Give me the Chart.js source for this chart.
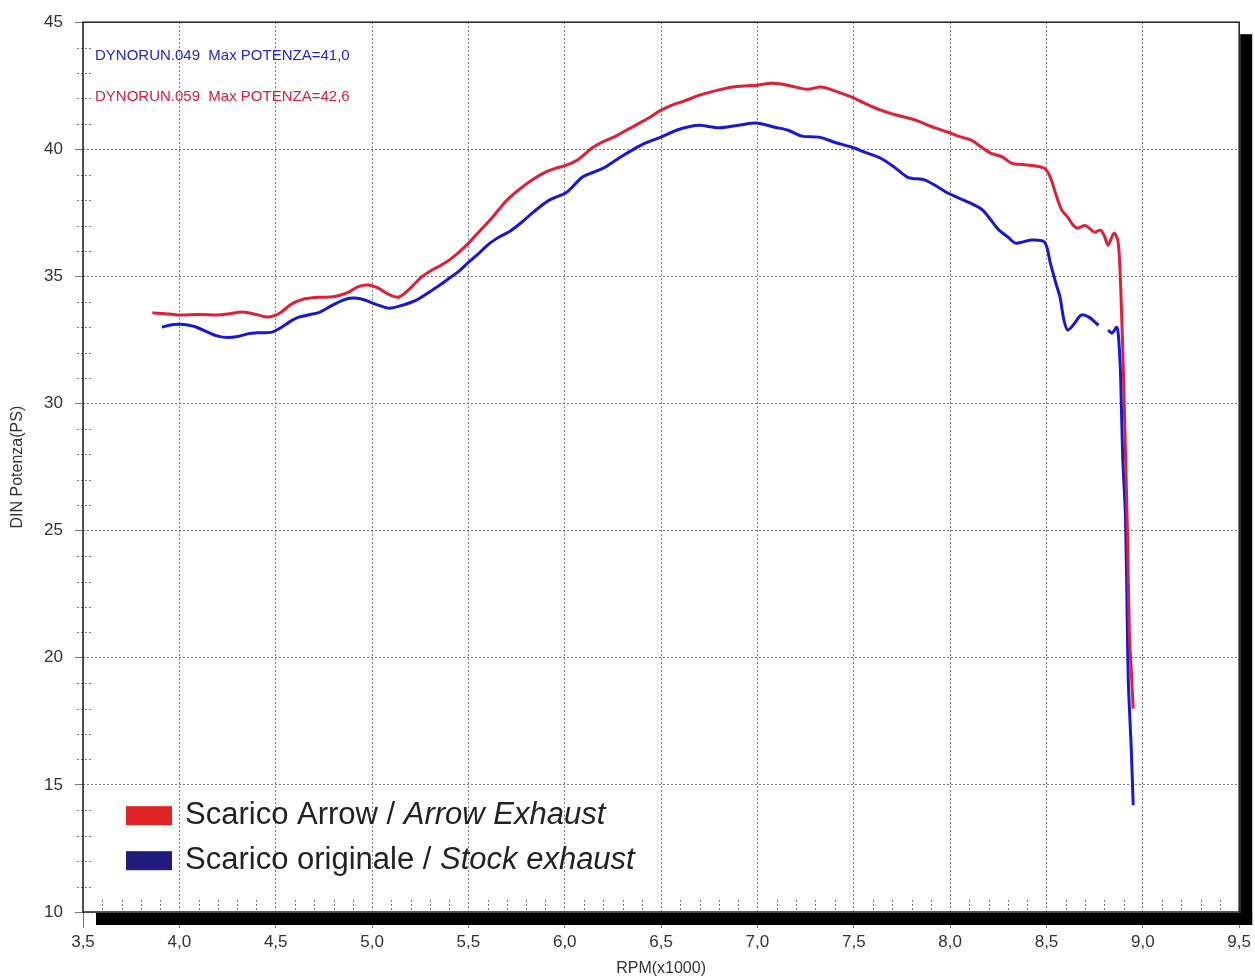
<!DOCTYPE html>
<html>
<head>
<meta charset="utf-8">
<title>DIN Potenza - Arrow vs Stock</title>
<script src="https://cdn.jsdelivr.net/npm/chart.js@4.4.1/dist/chart.umd.min.js"></script>
<style>
  html, body { margin: 0; padding: 0; background: #fff; }
  #wrap { width: 1255px; height: 978px; position: relative; }
</style>
</head>
<body>
<div id="wrap"><canvas id="dyno"></canvas></div>
<script>
// Dyno runs: Arrow exhaust vs stock exhaust, DIN power (PS) against RPM x1000

const arrowRpm = [3.86, 3.95, 4.00, 4.10, 4.20, 4.25, 4.33, 4.40, 4.46, 4.52, 4.58, 4.65, 4.72, 4.80, 4.87, 4.93, 4.98,
  5.03, 5.09, 5.14, 5.20, 5.26, 5.31, 5.36, 5.40, 5.45, 5.50, 5.56, 5.61, 5.66, 5.70, 5.76, 5.83, 5.90, 5.95,
  6.01, 6.07, 6.14, 6.20, 6.26, 6.32, 6.38, 6.44, 6.50, 6.56, 6.62, 6.70, 6.78, 6.87, 6.95, 7.00, 7.07, 7.13,
  7.18, 7.26, 7.33, 7.40, 7.49, 7.56, 7.64, 7.72, 7.82, 7.90, 7.99, 8.05, 8.11, 8.16, 8.21, 8.27, 8.32, 8.38,
  8.44, 8.49, 8.52, 8.55, 8.58, 8.61, 8.64, 8.66, 8.70, 8.73, 8.75, 8.78, 8.80, 8.82, 8.85, 8.87, 8.88, 8.89,
  8.90, 8.91, 8.92, 8.93, 8.94, 8.95];
const arrowPs = [33.57, 33.52, 33.48, 33.50, 33.48, 33.52, 33.60, 33.50, 33.40, 33.55, 33.90, 34.12, 34.18, 34.20, 34.35, 34.60, 34.66,
  34.55, 34.28, 34.19, 34.55, 35.00, 35.25, 35.45, 35.64, 35.95, 36.30, 36.80, 37.20, 37.65, 38.00, 38.40, 38.79, 39.10, 39.25,
  39.38, 39.60, 40.04, 40.30, 40.50, 40.75, 41.00, 41.25, 41.54, 41.75, 41.90, 42.13, 42.30, 42.45, 42.50, 42.52, 42.60, 42.56,
  42.48, 42.36, 42.45, 42.30, 42.05, 41.80, 41.54, 41.35, 41.15, 40.90, 40.67, 40.50, 40.36, 40.10, 39.85, 39.70, 39.45, 39.40,
  39.35, 39.25, 38.90, 38.20, 37.60, 37.33, 37.00, 36.90, 37.00, 36.85, 36.74, 36.82, 36.60, 36.23, 36.70, 36.43, 35.50, 33.50,
  31.00, 28.00, 25.00, 21.00, 19.50, 18.00];

const stockRpm = [3.91, 3.96, 4.00, 4.05, 4.09, 4.15, 4.20, 4.25, 4.31, 4.36, 4.40, 4.48, 4.53, 4.58, 4.62, 4.68, 4.73,
  4.79, 4.85, 4.90, 4.95, 4.99, 5.04, 5.09, 5.15, 5.23, 5.30, 5.36, 5.40, 5.45, 5.50, 5.56, 5.61, 5.66, 5.72,
  5.78, 5.84, 5.92, 6.01, 6.09, 6.15, 6.21, 6.28, 6.35, 6.42, 6.50, 6.58, 6.65, 6.70, 6.80, 6.90, 7.00, 7.09,
  7.16, 7.23, 7.32, 7.40, 7.49, 7.56, 7.64, 7.71, 7.78, 7.87, 7.94, 7.99, 8.04, 8.10, 8.17, 8.25, 8.30, 8.34,
  8.42, 8.49, 8.52, 8.55, 8.57, 8.59, 8.61, 8.64, 8.68, 8.72, 8.77, 8.795, 8.82, 8.84, 8.865, 8.875, 8.885, 8.895,
  8.91, 8.92, 8.925, 8.94, 8.95];
const stockPs = [33.00, 33.10, 33.12, 33.08, 33.00, 32.80, 32.65, 32.60, 32.65, 32.75, 32.78, 32.81, 33.00, 33.25, 33.40, 33.50, 33.60,
  33.85, 34.07, 34.15, 34.10, 33.99, 33.85, 33.75, 33.85, 34.07, 34.40, 34.70, 34.93, 35.20, 35.55, 35.95, 36.30, 36.55, 36.80,
  37.15, 37.55, 38.00, 38.31, 38.90, 39.10, 39.30, 39.65, 39.97, 40.25, 40.48, 40.75, 40.90, 40.95, 40.85, 40.95, 41.03, 40.87,
  40.75, 40.52, 40.48, 40.28, 40.08, 39.88, 39.65, 39.30, 38.90, 38.79, 38.50, 38.27, 38.10, 37.90, 37.60, 36.85, 36.55, 36.31,
  36.43, 36.35, 35.52, 34.70, 34.19, 33.30, 32.89, 33.10, 33.48, 33.40, 33.08, null, 32.89, 32.77, 33.00, 32.50, 31.00, 28.00,
  25.50, 21.00, 19.00, 16.40, 14.20];

const xMin = 3.5, xMax = 9.5, xStep = 0.5, xMinorStep = 0.1;
const yMin = 10, yMax = 45, yStep = 5, yMinorStep = 1;

const runLabels = ["DYNORUN.049  Max POTENZA=41,0", "DYNORUN.059  Max POTENZA=42,6"];
const runColors = ["#2626cc", "#d81e3c"];
const legendText = [["Scarico Arrow / ", "Arrow Exhaust"], ["Scarico originale / ", "Stock exhaust"]];
const legendColors = ["#e02424", "#221c7c"];

const FONT = "'Liberation Sans', Arial, sans-serif";

function toPoints(xs, ys) {
  return xs.map((x, i) => ({ x: x, y: ys[i] }));
}

// frame, drop shadow, minor ticks, run labels and legend
const dynoDecor = {
  id: "dynoDecor",
  beforeDatasetsDraw(chart) {
    const { ctx, chartArea: a, scales } = chart;
    ctx.save();
    ctx.fillStyle = "#000";
    ctx.fillRect(a.right + 1, a.top + 12, 12, a.bottom - a.top + 1);
    ctx.fillRect(a.left + 13, a.bottom + 1, a.right - a.left, 12);

    ctx.strokeStyle = "#777";
    ctx.lineWidth = 1;
    ctx.setLineDash([2, 2]);
    ctx.beginPath();
    for (let v = xMin + xMinorStep; v < xMax - 1e-6; v += xMinorStep) {
      const r = Math.round(v * 10) / 10;
      if (Math.abs(r / xStep - Math.round(r / xStep)) < 1e-6) continue;
      const px = Math.round(scales.x.getPixelForValue(r)) + 0.5;
      ctx.moveTo(px, a.bottom - 12);
      ctx.lineTo(px, a.bottom - 2);
    }
    for (let v = yMin + yMinorStep; v < yMax; v += yMinorStep) {
      if (v % yStep === 0) continue;
      const py = Math.round(scales.y.getPixelForValue(v)) + 0.5;
      ctx.moveTo(a.left - 6, py);
      ctx.lineTo(a.left + 9, py);
    }
    ctx.stroke();
    ctx.restore();
  },
  afterDraw(chart) {
    const { ctx, chartArea: a } = chart;
    ctx.save();
    ctx.strokeStyle = "#222";
    ctx.lineWidth = 1.5;
    ctx.strokeRect(a.left, a.top, a.right - a.left, a.bottom - a.top);

    ctx.font = "15px " + FONT;
    ctx.textBaseline = "middle";
    runLabels.forEach((t, i) => {
      ctx.fillStyle = runColors[i];
      ctx.fillText(t, a.left + 12, a.top + 34 + i * 41);
    });

    legendText.forEach((parts, i) => {
      const y = a.top + 793 + i * 45;
      ctx.fillStyle = legendColors[i];
      ctx.fillRect(a.left + 43, y - 9, 46, 19);
      ctx.fillStyle = "#222";
      ctx.font = "31px " + FONT;
      ctx.fillText(parts[0], a.left + 102, y);
      const w = ctx.measureText(parts[0]).width;
      ctx.font = "italic 31px " + FONT;
      ctx.fillText(parts[1], a.left + 102 + w, y);
    });
    ctx.restore();
  }
};

new Chart(document.getElementById("dyno"), {
  type: "line",
  data: {
    datasets: [
      {
        label: "Scarico Arrow / Arrow Exhaust",
        data: toPoints(arrowRpm, arrowPs),
        borderColor: "#de1f38",
        borderWidth: 3,
        pointRadius: 0,
        tension: 0.3,
        fill: false,
      },
      {
        label: "Scarico originale / Stock exhaust",
        data: toPoints(stockRpm, stockPs),
        borderColor: "#1818d2",
        borderWidth: 3,
        pointRadius: 0,
        tension: 0.3,
        spanGaps: false,
        fill: false,
      },
    ],
  },
  options: {
    responsive: true,
    maintainAspectRatio: false,
    animation: false,
    layout: { padding: { top: 22, right: 15, left: 0, bottom: 0 } },
    plugins: {
      legend: { display: false },
      tooltip: { enabled: false },
    },
    scales: {
      x: {
        type: "linear",
        min: xMin,
        max: xMax,
        afterFit: (s) => { s.height = 66; },
        ticks: {
          stepSize: xStep,
          padding: 4,
          color: "#333",
          font: { family: FONT, size: 17 },
          callback: (v) => v.toFixed(1).replace(".", ","),
        },
        grid: { color: "#777", lineWidth: 1, tickLength: 16 },
        border: { display: false, dash: [2, 2] },
        title: {
          display: true,
          text: "RPM(x1000)",
          color: "#333",
          font: { family: FONT, size: 16 },
          padding: { top: 0, bottom: 0 },
        },
      },
      y: {
        min: yMin,
        max: yMax,
        afterFit: (s) => { s.width = 83; },
        ticks: {
          stepSize: yStep,
          padding: 12,
          color: "#333",
          font: { family: FONT, size: 17 },
        },
        grid: { color: "#777", lineWidth: 1, tickLength: 8 },
        border: { display: false, dash: [2, 2] },
        title: {
          display: true,
          text: "DIN Potenza(PS)",
          color: "#333",
          font: { family: FONT, size: 16 },
          padding: { top: 8, bottom: 0 },
        },
      },
    },
  },
  plugins: [dynoDecor],
});
</script>
</body>
</html>
